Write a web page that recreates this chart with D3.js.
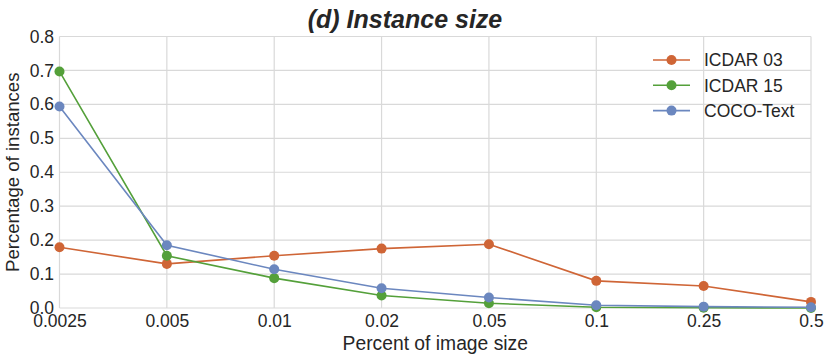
<!DOCTYPE html>
<html>
<head>
<meta charset="utf-8">
<script src="https://cdn.jsdelivr.net/npm/d3@7"></script>
<style>
  body { margin: 0; background: #fff; }
  text { font-family: "Liberation Sans", Arial, sans-serif; fill: #262626; }
</style>
</head>
<body>
<script>
// x categories (evenly spaced, not log)
var sizes = ["0.0025", "0.005", "0.01", "0.02", "0.05", "0.1", "0.25", "0.5"];

// series values
var icdar03 = [0.179, 0.130, 0.154, 0.175, 0.188, 0.080, 0.065, 0.018];
var icdar15 = [0.697, 0.154, 0.088, 0.037, 0.014, 0.002, 0.001, 0.000];
var cocoText = [0.594, 0.185, 0.114, 0.058, 0.031, 0.008, 0.004, 0.002];

var seriesNames = ["ICDAR 03", "ICDAR 15", "COCO-Text"];
var seriesColors = ["#cf6536", "#54a03a", "#6b87bf"];
var yTicks = [0, 0.1, 0.2, 0.3, 0.4, 0.5, 0.6, 0.7, 0.8];

var W = 830, H = 361;
var margin = {top: 36.5, right: 19, bottom: 53, left: 59.5};
var width = W - margin.left - margin.right,
    height = H - margin.top - margin.bottom;

var svg = d3.select("body").append("svg")
  .attr("width", W)
  .attr("height", H);

var g = svg.append("g")
  .attr("transform", "translate(" + margin.left + "," + margin.top + ")");

var x = d3.scalePoint().domain(sizes).range([0, width]);
var y = d3.scaleLinear().domain([0, 0.8]).range([height, 0]);

// grid
g.append("g").selectAll("line")
  .data(yTicks)
  .enter().append("line")
    .attr("x1", 0).attr("x2", width)
    .attr("y1", function(d) { return y(d); })
    .attr("y2", function(d) { return y(d); })
    .attr("stroke", "#d9d9d9").attr("stroke-width", 1.2);

g.append("g").selectAll("line")
  .data(sizes)
  .enter().append("line")
    .attr("y1", 0).attr("y2", height)
    .attr("x1", function(d) { return x(d); })
    .attr("x2", function(d) { return x(d); })
    .attr("stroke", "#d9d9d9").attr("stroke-width", 1.2);

// axes (labels only, no tick marks)
var xAxis = g.append("g")
  .attr("transform", "translate(0," + height + ")")
  .call(d3.axisBottom(x).tickSize(0).tickPadding(6.5));
xAxis.select(".domain").remove();
xAxis.selectAll("text").style("font-size", "17.5px").attr("fill", "#262626");

var yAxis = g.append("g")
  .call(d3.axisLeft(y).tickValues(yTicks).tickFormat(d3.format(".1f")).tickSize(0).tickPadding(5.5));
yAxis.select(".domain").remove();
yAxis.selectAll("text").style("font-size", "17.5px").attr("fill", "#262626");

// lines and points
var allSeries = [icdar03, icdar15, cocoText];
var line = d3.line()
  .x(function(d, i) { return x(sizes[i]); })
  .y(function(d) { return y(d); });

allSeries.forEach(function(vals, k) {
  g.append("path")
    .datum(vals)
    .attr("d", line)
    .attr("fill", "none")
    .attr("stroke", seriesColors[k])
    .attr("stroke-width", 1.6);
});

allSeries.forEach(function(vals, k) {
  g.selectAll("circle.s" + k)
    .data(vals)
    .enter().append("circle")
      .attr("class", "s" + k)
      .attr("cx", function(d, i) { return x(sizes[i]); })
      .attr("cy", function(d) { return y(d); })
      .attr("r", 5)
      .attr("fill", seriesColors[k]);
});

// legend
var legend = svg.append("g").attr("transform", "translate(653,60)");
seriesNames.forEach(function(name, k) {
  var row = legend.append("g").attr("transform", "translate(0," + (k * 25.3) + ")");
  row.append("line")
    .attr("x1", 0).attr("x2", 37).attr("y1", 0).attr("y2", 0)
    .attr("stroke", seriesColors[k]).attr("stroke-width", 1.6);
  row.append("circle")
    .attr("cx", 18.5).attr("cy", 0).attr("r", 5)
    .attr("fill", seriesColors[k]);
  row.append("text")
    .attr("x", 51).attr("y", 6.3)
    .style("font-size", "17.5px")
    .text(name);
});

// titles
svg.append("text")
  .attr("x", 405).attr("y", 28)
  .attr("text-anchor", "middle")
  .style("font-size", "25px").style("font-weight", "bold").style("font-style", "italic")
  .text("(d) Instance size");

svg.append("text")
  .attr("x", margin.left + width / 2).attr("y", 350)
  .attr("text-anchor", "middle")
  .style("font-size", "19.3px")
  .text("Percent of image size");

svg.append("text")
  .attr("transform", "translate(19," + (margin.top + height / 2) + ") rotate(-90)")
  .attr("text-anchor", "middle")
  .style("font-size", "18.6px")
  .text("Percentage of instances");
</script>
</body>
</html>
